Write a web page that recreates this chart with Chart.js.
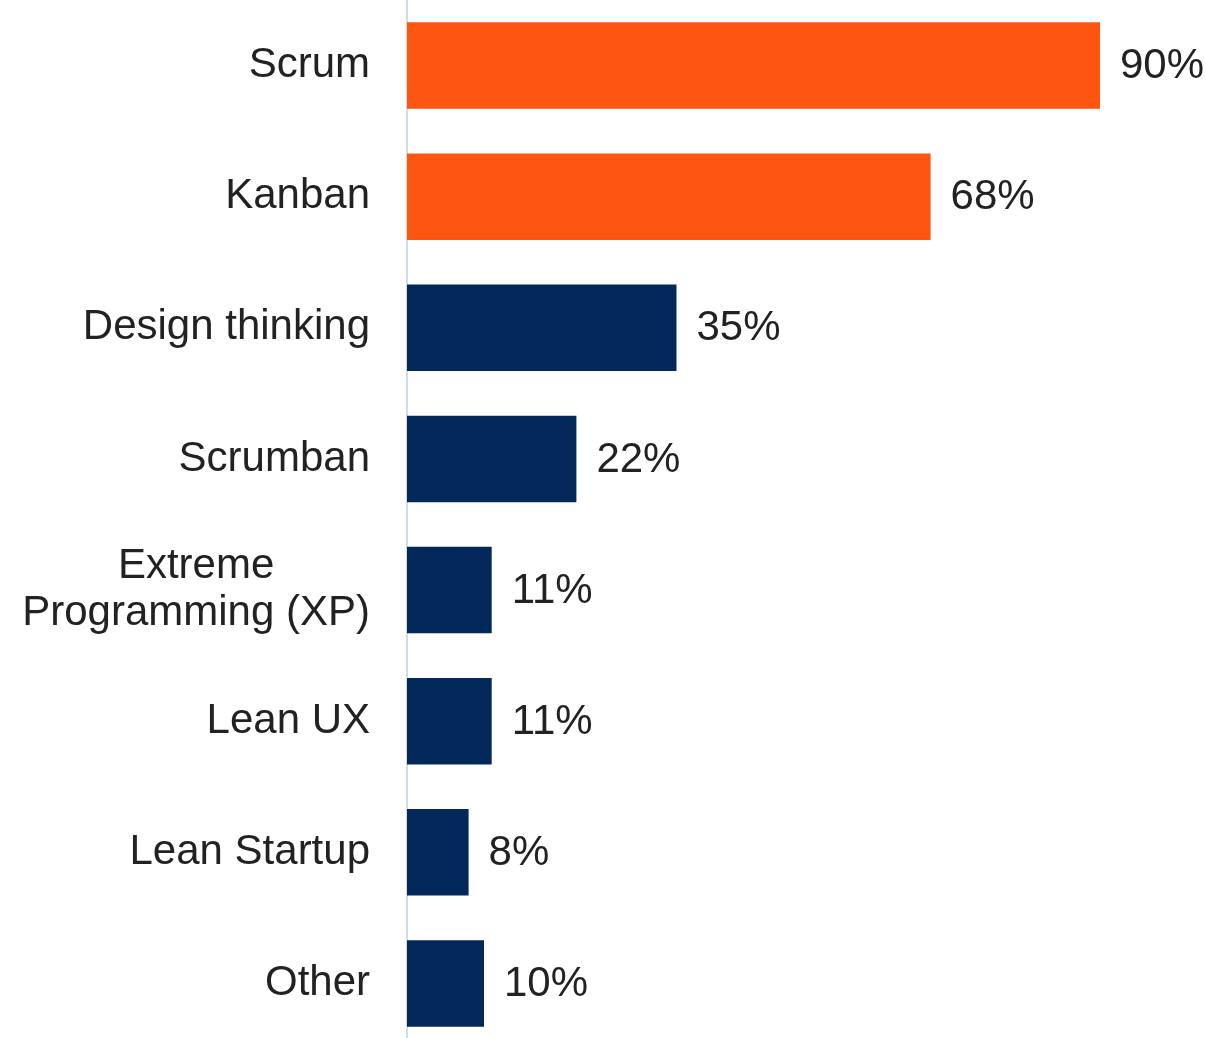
<!DOCTYPE html>
<html>
<head>
<meta charset="utf-8">
<script src="https://cdn.jsdelivr.net/npm/chart.js@4/dist/chart.umd.min.js"></script>
<style>
    html, body { margin: 0; padding: 0; background: #fff; overflow: hidden; }
    .wrap { position: relative; width: 1206px; height: 1049px; }
</style>
</head>
<body>
<div class="wrap"><canvas id="myChart"></canvas></div>
<script>
const methods = ['Scrum', 'Kanban', 'Design thinking', 'Scrumban', ['Extreme', 'Programming (XP)'], 'Lean UX', 'Lean Startup', 'Other'];
const shares = [90, 68, 35, 22, 11, 11, 8, 10];
const highlighted = [true, true, false, false, false, false, false, false];

const ORANGE = '#ff5512';
const NAVY = '#03295a';
const FONT = '"Liberation Sans", Arial, sans-serif';

var ctx = document.getElementById('myChart').getContext('2d');

// category names on the left + value labels after each bar
const labelPlugin = {
    id: 'labels',
    afterDatasetsDraw(chart) {
        const c = chart.ctx;
        const y = chart.scales.y;
        c.save();
        c.font = '42px ' + FONT;
        c.fillStyle = '#222';
        c.textBaseline = 'middle';

        methods.forEach((name, i) => {
            const py = y.getPixelForTick(i);
            if (Array.isArray(name)) {
                // multi-line label: lines centred on the widest one
                const widest = Math.max(...name.map(t => c.measureText(t).width));
                const cx = 370 - widest / 2;
                const lh = 47;
                c.textAlign = 'center';
                name.forEach((t, k) => {
                    c.fillText(t, cx, py + (k - (name.length - 1) / 2) * lh);
                });
            } else {
                c.textAlign = 'right';
                c.fillText(name, 370, py);
            }
        });

        const meta = chart.getDatasetMeta(0);
        c.textAlign = 'left';
        meta.data.forEach((bar, i) => {
            c.fillText(shares[i] + '%', bar.x + 20, bar.y + 1);
        });
        c.restore();
    }
};

var myChart = new Chart(ctx, {
    type: 'bar',
    data: {
        labels: methods,
        datasets: [
            {
                data: shares,
                backgroundColor: highlighted.map(h => h ? ORANGE : NAVY),
                borderWidth: 0,
                barPercentage: 0.66,
                categoryPercentage: 1
            }
        ]
    },
    options: {
        indexAxis: 'y',
        responsive: true,
        maintainAspectRatio: false,
        animation: false,
        layout: { padding: { left: 0, right: 29, top: 0, bottom: 0 } },
        plugins: {
            legend: { display: false },
            tooltip: { enabled: false }
        },
        scales: {
            x: {
                min: 0,
                max: 100,
                display: false
            },
            y: {
                afterFit(scale) { scale.width = 407; },
                ticks: { display: false },
                grid: { display: false, drawTicks: false },
                border: { display: true, color: '#d3dbe3', width: 2 }
            }
        }
    },
    plugins: [labelPlugin]
});
</script>
</body>
</html>
